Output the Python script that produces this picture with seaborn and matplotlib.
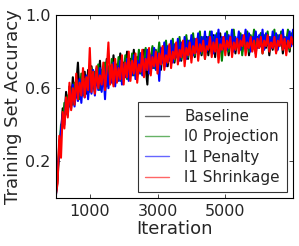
import matplotlib
matplotlib.use("Agg")
import matplotlib.pyplot as plt
import seaborn as sns
import numpy as np
import pandas as pd

# accuracy, one value every 50 iterations (0 .. 7000)
baseline = [0.02, 0.10, 0.31, 0.35, 0.49, 0.43, 0.58, 0.47, 0.61, 0.52,
            0.66, 0.53, 0.62, 0.74, 0.56, 0.66, 0.58, 0.69, 0.57, 0.70,
            0.60, 0.72, 0.63, 0.58, 0.71, 0.61, 0.75, 0.62, 0.70, 0.64,
            0.76, 0.63, 0.72, 0.66, 0.78, 0.64, 0.73, 0.68, 0.79, 0.65,
            0.74, 0.67, 0.80, 0.66, 0.76, 0.69, 0.81, 0.67, 0.77, 0.70,
            0.79, 0.68, 0.81, 0.71, 0.62, 0.79, 0.70, 0.82, 0.71, 0.78,
            0.72, 0.83, 0.70, 0.80, 0.73, 0.84, 0.72, 0.81, 0.75, 0.85,
            0.74, 0.82, 0.76, 0.86, 0.75, 0.83, 0.77, 0.87, 0.76, 0.84,
            0.78, 0.88, 0.77, 0.85, 0.79, 0.89, 0.78, 0.86, 0.80, 0.88,
            0.78, 0.86, 0.80, 0.89, 0.77, 0.87, 0.81, 0.90, 0.79, 0.86,
            0.81, 0.89, 0.78, 0.87, 0.82, 0.90, 0.79, 0.86, 0.83, 0.89,
            0.80, 0.88, 0.82, 0.90, 0.78, 0.87, 0.81, 0.89, 0.79, 0.88,
            0.83, 0.90, 0.80, 0.86, 0.82, 0.89, 0.78, 0.87, 0.81, 0.90,
            0.80, 0.88, 0.83, 0.89, 0.79, 0.87, 0.82, 0.90, 0.80, 0.88, 0.85]

l0_projection = [0.03, 0.14, 0.26, 0.40, 0.41, 0.52, 0.46, 0.56, 0.50, 0.60,
                 0.51, 0.63, 0.55, 0.64, 0.54, 0.68, 0.56, 0.65, 0.59, 0.67,
                 0.58, 0.71, 0.60, 0.69, 0.62, 0.73, 0.59, 0.70, 0.63, 0.74,
                 0.61, 0.72, 0.64, 0.76, 0.62, 0.73, 0.66, 0.77, 0.64, 0.74,
                 0.68, 0.78, 0.65, 0.76, 0.69, 0.79, 0.67, 0.77, 0.71, 0.81,
                 0.68, 0.78, 0.72, 0.82, 0.70, 0.80, 0.73, 0.83, 0.71, 0.81,
                 0.75, 0.85, 0.73, 0.82, 0.76, 0.86, 0.74, 0.83, 0.78, 0.87,
                 0.75, 0.84, 0.79, 0.88, 0.76, 0.85, 0.80, 0.89, 0.77, 0.86,
                 0.81, 0.90, 0.78, 0.87, 0.82, 0.91, 0.79, 0.88, 0.76, 0.87,
                 0.82, 0.91, 0.79, 0.88, 0.83, 0.90, 0.80, 0.87, 0.75, 0.86,
                 0.83, 0.91, 0.80, 0.88, 0.84, 0.92, 0.81, 0.87, 0.82, 0.90,
                 0.78, 0.88, 0.83, 0.91, 0.80, 0.89, 0.84, 0.92, 0.81, 0.88,
                 0.82, 0.90, 0.79, 0.89, 0.84, 0.91, 0.81, 0.88, 0.83, 0.92,
                 0.80, 0.89, 0.84, 0.91, 0.82, 0.88, 0.85, 0.92, 0.81, 0.90, 0.87]

l1_penalty = [0.01, 0.16, 0.24, 0.37, 0.46, 0.40, 0.54, 0.45, 0.57, 0.49,
              0.62, 0.50, 0.60, 0.53, 0.65, 0.52, 0.64, 0.55, 0.67, 0.54,
              0.66, 0.57, 0.70, 0.56, 0.68, 0.59, 0.71, 0.58, 0.69, 0.54,
              0.72, 0.60, 0.70, 0.63, 0.74, 0.61, 0.72, 0.64, 0.75, 0.62,
              0.73, 0.66, 0.76, 0.64, 0.74, 0.67, 0.78, 0.65, 0.75, 0.68,
              0.79, 0.67, 0.76, 0.70, 0.81, 0.68, 0.78, 0.71, 0.82, 0.70,
              0.79, 0.64, 0.82, 0.74, 0.85, 0.72, 0.83, 0.75, 0.86, 0.74,
              0.84, 0.77, 0.87, 0.75, 0.85, 0.78, 0.88, 0.76, 0.86, 0.79,
              0.89, 0.78, 0.87, 0.80, 0.90, 0.79, 0.88, 0.81, 0.91, 0.80,
              0.88, 0.82, 0.91, 0.79, 0.89, 0.83, 0.92, 0.80, 0.88, 0.82,
              0.90, 0.81, 0.89, 0.84, 0.92, 0.80, 0.88, 0.83, 0.91, 0.81,
              0.89, 0.84, 0.92, 0.82, 0.90, 0.80, 0.88, 0.85, 0.91, 0.82,
              0.89, 0.83, 0.92, 0.81, 0.90, 0.84, 0.88, 0.82, 0.91, 0.83,
              0.90, 0.81, 0.89, 0.84, 0.92, 0.82, 0.88, 0.85, 0.91, 0.83, 0.92]

l1_shrinkage = [0.02, 0.08, 0.34, 0.22, 0.47, 0.38, 0.55, 0.44, 0.63, 0.48,
                0.60, 0.51, 0.68, 0.54, 0.63, 0.56, 0.71, 0.55, 0.66, 0.59,
                0.82, 0.58, 0.69, 0.57, 0.72, 0.60, 0.67, 0.62, 0.74, 0.59,
                0.70, 0.85, 0.62, 0.73, 0.61, 0.76, 0.63, 0.71, 0.65, 0.78,
                0.62, 0.74, 0.66, 0.80, 0.64, 0.75, 0.68, 0.79, 0.63, 0.73,
                0.69, 0.81, 0.66, 0.76, 0.70, 0.82, 0.67, 0.77, 0.72, 0.80,
                0.68, 0.79, 0.73, 0.83, 0.70, 0.78, 0.74, 0.84, 0.71, 0.80,
                0.76, 0.85, 0.73, 0.81, 0.77, 0.86, 0.72, 0.82, 0.78, 0.85,
                0.74, 0.83, 0.79, 0.87, 0.75, 0.84, 0.80, 0.86, 0.76, 0.83,
                0.81, 0.88, 0.77, 0.85, 0.80, 0.87, 0.74, 0.84, 0.81, 0.88,
                0.78, 0.86, 0.82, 0.88, 0.77, 0.85, 0.81, 0.87, 0.79, 0.86,
                0.83, 0.89, 0.78, 0.85, 0.82, 0.88, 0.80, 0.86, 0.77, 0.87,
                0.82, 0.88, 0.79, 0.86, 0.83, 0.89, 0.80, 0.85, 0.82, 0.88,
                0.79, 0.86, 0.83, 0.89, 0.81, 0.87, 0.78, 0.86, 0.82, 0.88, 0.84]

step = 50
methods = ["Baseline", "l0 Projection", "l1 Penalty", "l1 Shrinkage"]
colors = ["k", "g", "b", "r"]

series = [baseline, l0_projection, l1_penalty, l1_shrinkage]
df = pd.concat([pd.DataFrame({"Iteration": np.arange(len(s)) * step, "acc": s, "method": m})
                for s, m in zip(series, methods)], ignore_index=True)

sns.set_style("ticks")
plt.rcParams['font.family'] = ['DejaVu Sans']

fig = plt.figure(figsize=(2.99, 2.46), dpi=100)
ax = fig.add_axes([0.187, 0.195, 0.793, 0.744])

sns.lineplot(data=df, x="Iteration", y="acc", hue="method", hue_order=methods,
             palette=dict(zip(methods, colors)), linewidth=1.5, ax=ax,
             estimator=None, sort=False)

ax.set_xlim(0, 7000)
ax.set_ylim(0, 1.0)
ax.set_xticks([1000, 3000, 5000])
ax.set_yticks([0.2, 0.6, 1.0])
ax.tick_params(direction="in", top=True, right=True, labelsize=11.5, length=3,
               width=0.6, pad=4)
for sp in ax.spines.values():
    sp.set_linewidth(0.8)
    sp.set_color("black")
ax.set_xlabel("Iteration", fontsize=13, labelpad=1)
ax.set_ylabel("Training Set Accuracy", fontsize=13, labelpad=2)

leg = ax.legend(loc="lower right", fontsize=11, frameon=True, fancybox=False,
                borderaxespad=0.4, handlelength=1.6, handletextpad=1.0,
                labelspacing=0.35, borderpad=0.45)
leg.get_frame().set_edgecolor("black")
leg.get_frame().set_linewidth(0.8)
for line in leg.get_lines():
    line.set_linewidth(1.0)
    line.set_alpha(0.6)

fig.savefig("out.png", dpi=100)
